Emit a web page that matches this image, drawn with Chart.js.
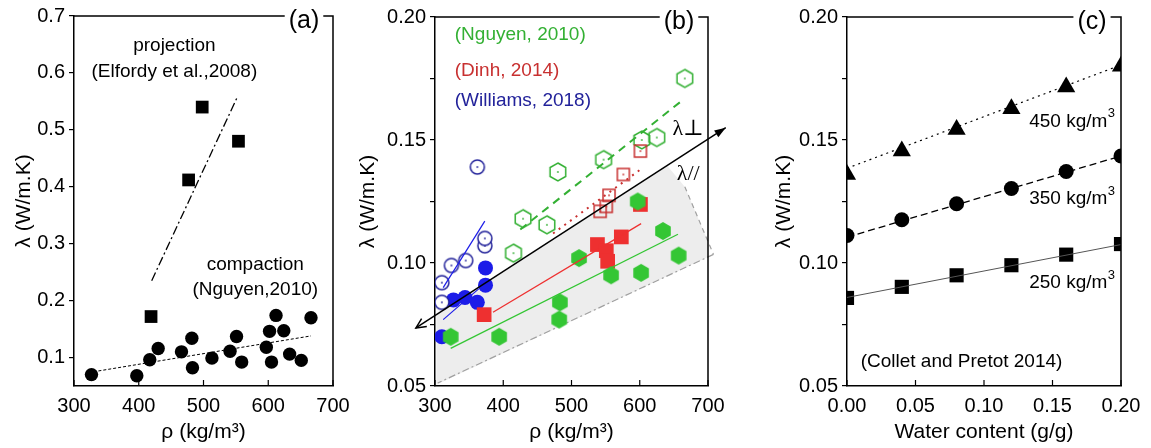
<!DOCTYPE html>
<html>
<head>
<meta charset="utf-8">
<script src="https://cdn.jsdelivr.net/npm/chart.js@4.4.1/dist/chart.umd.min.js"></script>
<style>
  body { margin: 0; background: #fff; width: 1151px; height: 448px; overflow: hidden; position: relative; }
  canvas { position: absolute; top: 0; }
</style>
</head>
<body>
<canvas id="chartA" width="360" height="448" style="left:0px"></canvas>
<canvas id="chartB" width="395" height="448" style="left:345px"></canvas>
<canvas id="chartC" width="391" height="448" style="left:760px"></canvas>
<script>
// ---- panel (a) ----
const projRho = [419, 477, 498, 554];
const projLambda = [0.172, 0.412, 0.540, 0.480];
const projFitRho = [420, 552];
const projFitLambda = [0.235, 0.557];
const compRho = [327, 397, 417, 430, 466, 482, 483, 513, 541, 551, 559, 597, 602, 605, 612, 624, 633, 651, 666];
const compLambda = [0.070, 0.068, 0.096, 0.116, 0.110, 0.134, 0.082, 0.099, 0.111, 0.137, 0.092, 0.118, 0.146, 0.092, 0.174, 0.147, 0.106, 0.095, 0.170];
const compFitRho = [330, 666];
const compFitLambda = [0.075, 0.138];
const aXTicks = [300, 400, 500, 600, 700];
const aYTicks = [0.1, 0.2, 0.3, 0.4, 0.5, 0.6, 0.7];

// ---- panel (b) ----
const nguyenOpenRho = [415, 429, 464, 480, 547, 603, 625, 666];
const nguyenOpenLambda = [0.104, 0.118, 0.1155, 0.137, 0.142, 0.150, 0.151, 0.175];
const nguyenOpenFitRho = [425, 665];
const nguyenOpenFitLambda = [0.1136, 0.1667];
const dinhOpenRho = [542, 551, 555, 576, 601];
const dinhOpenLambda = [0.121, 0.123, 0.1275, 0.136, 0.1455];
const dinhOpenFitRho = [473, 600];
const dinhOpenFitLambda = [0.112, 0.1378];
const williamsOpenRho = [310, 310, 324, 345, 362, 373, 373];
const williamsOpenLambda = [0.084, 0.092, 0.099, 0.101, 0.139, 0.107, 0.110];
const williamsOpenFitRho = [312, 373];
const williamsOpenFitLambda = [0.090, 0.117];
const nguyenFullRho = [323, 394, 482, 483, 511, 558, 597, 602, 634, 657];
const nguyenFullLambda = [0.070, 0.070, 0.077, 0.084, 0.102, 0.095, 0.125, 0.096, 0.113, 0.103];
const nguyenFullFitRho = [323, 656];
const nguyenFullFitLambda = [0.0653, 0.1117];
const dinhFullRho = [372, 538, 551, 553, 573, 601];
const dinhFullLambda = [0.079, 0.1075, 0.105, 0.1007, 0.1106, 0.1238];
const dinhFullFitRho = [385, 602];
const dinhFullFitLambda = [0.080, 0.116];
const williamsFullRho = [310, 327, 344, 362, 374, 374];
const williamsFullLambda = [0.070, 0.085, 0.086, 0.084, 0.091, 0.098];
const williamsFullFitRho = [312, 364];
const williamsFullFitLambda = [0.077, 0.0895];
const trendRho = [272, 726];
const trendLambda = [0.0736, 0.155];
const zoneRho = [302, 302, 640, 666, 708];
const zoneLambda = [0.0505, 0.079, 0.1396, 0.131, 0.1035];
const zoneRightRho = [666, 708];
const zoneRightLambda = [0.131, 0.1035];
const zoneBottomRho = [708, 304];
const zoneBottomLambda = [0.1035, 0.0512];
const bXTicks = [300, 400, 500, 600, 700];
const bYTicks = [0.05, 0.075, 0.10, 0.125, 0.15, 0.175, 0.20];

// ---- panel (c) ----
const water = [0, 0.04, 0.08, 0.12, 0.16, 0.20];
const lambda450 = [0.136, 0.1455, 0.1543, 0.1627, 0.1715, 0.180];
const lambda350 = [0.1112, 0.1176, 0.1241, 0.1303, 0.1372, 0.1435];
const lambda250 = [0.0858, 0.0903, 0.0950, 0.0991, 0.1034, 0.1077];
const fitWater = [0, 0.20];
const fit450 = [0.1385, 0.1805];
const fit350 = [0.1105, 0.1435];
const fit250 = [0.086, 0.1075];
const cXTicks = [0, 0.05, 0.10, 0.15, 0.20];
const cYTicks = [0.05, 0.075, 0.10, 0.125, 0.15, 0.175, 0.20];

const GREEN = '#33b033', GREEN_FILL = '#34c634';
const RED = '#c83030', RED_FILL = '#ee3030';
const BLUE = '#22229a', BLUE_FILL = '#1c1ce8';
const SANS = '"Liberation Sans", Arial, sans-serif';
const SERIF = '"Liberation Serif", "DejaVu Serif", serif';

Chart.defaults.font.family = SANS;
Chart.defaults.color = '#000';

const pts = (xs, ys) => xs.map((x, i) => ({ x, y: ys[i] }));

// marker images
function marker(kind, fill, stroke, dot) {
  const c = document.createElement('canvas');
  c.width = c.height = 22;
  const g = c.getContext('2d');
  const m = 11;
  g.beginPath();
  if (kind === 'hex') {
    for (let i = 0; i < 6; i++) {
      const a = -Math.PI / 2 + i * Math.PI / 3;
      g.lineTo(m + 9 * Math.cos(a), m + 9 * Math.sin(a));
    }
    g.closePath();
  } else if (kind === 'square') {
    g.rect(m - 6, m - 6, 12, 12);
  } else {
    g.arc(m, m, 7, 0, Math.PI * 2);
  }
  if (fill) { g.fillStyle = fill; g.fill(); }
  if (stroke) { g.strokeStyle = stroke; g.lineWidth = 1.5; g.stroke(); }
  if (dot) { g.fillStyle = dot; g.fillRect(m - 0.8, m - 0.8, 1.6, 1.6); }
  return c;
}

const hexOpen = marker('hex', null, GREEN, GREEN);
const hexFull = marker('hex', GREEN_FILL, null, null);
const squareOpen = marker('square', null, RED, RED);
const circleOpen = marker('circle', '#fff', BLUE, BLUE);

function line(data, color, width, dash, extra) {
  return Object.assign({ data, showLine: true, borderColor: color, borderWidth: width,
    borderDash: dash, pointRadius: 0, fill: false }, extra || {});
}

function scatter(data, style, radius, color, extra) {
  return Object.assign({ data, showLine: false, pointStyle: style, pointRadius: radius,
    backgroundColor: color, borderColor: color, borderWidth: 0 }, extra || {});
}

function axes(o) {
  return {
    x: {
      type: 'linear', min: o.xMin, max: o.xMax,
      afterBuildTicks: s => { s.ticks = o.xTicks.map(v => ({ value: v })); },
      afterFit: s => { s.height = 62; s.paddingLeft = 0; s.paddingRight = 0; },
      grid: { display: false, drawTicks: false },
      border: { color: '#000', width: 1.5 },
      ticks: { padding: 8, font: { size: 20 }, color: '#000', callback: o.xFmt, maxRotation: 0 },
      title: { display: true, text: o.xTitle, font: { size: 21 }, color: '#000', padding: { top: 3, bottom: 3 } }
    },
    y: {
      type: 'linear', min: o.yMin, max: o.yMax,
      afterBuildTicks: s => { s.ticks = o.yTicks.map(v => ({ value: v })); },
      afterFit: s => { s.width = o.yWidth; s.paddingTop = 0; s.paddingBottom = 0; },
      grid: { display: true, drawOnChartArea: false, drawTicks: true, tickLength: 5, color: '#000', lineWidth: 1.2 },
      border: { color: '#000', width: 1.5 },
      ticks: { padding: 4, font: { size: 20 }, color: '#000', callback: o.yFmt },
      title: { display: true, text: 'λ (W/m.K)', font: { size: 21 }, color: '#000', padding: { top: o.titlePad, bottom: 0 } }
    }
  };
}

// frame, panel label, inward x ticks and text notes
function decor(label, notes, extra) {
  return {
    id: 'decor',
    afterDraw(chart) {
      const { ctx, chartArea: a, scales: { x, y } } = chart;
      ctx.save();
      ctx.strokeStyle = '#000';
      ctx.lineWidth = 1.5;
      ctx.beginPath();
      ctx.moveTo(a.left, a.top);
      ctx.lineTo(a.right, a.top);
      ctx.lineTo(a.right, a.bottom);
      ctx.stroke();
      ctx.lineWidth = 1.2;
      x.ticks.forEach(t => {
        const px = x.getPixelForValue(t.value);
        ctx.beginPath();
        ctx.moveTo(px, a.bottom);
        ctx.lineTo(px, a.bottom - 6);
        ctx.stroke();
      });
      if (extra) extra(chart);
      ctx.font = '25px ' + SANS;
      const w = ctx.measureText(label).width;
      const cx = a.right - 29;
      ctx.fillStyle = '#fff';
      ctx.fillRect(cx - w / 2 - 4, a.top - 3, w + 8, 6);
      ctx.fillStyle = '#000';
      ctx.textAlign = 'center';
      ctx.textBaseline = 'middle';
      ctx.fillText(label, cx, a.top + 5);
      notes.forEach(n => {
        const font = n.font || '19px ' + SANS;
        ctx.font = font;
        ctx.fillStyle = n.color || '#000';
        ctx.textAlign = n.align || 'center';
        const px = x.getPixelForValue(n.x), py = y.getPixelForValue(n.y);
        ctx.fillText(n.text, px, py);
        if (n.sup) {
          const tw = ctx.measureText(n.text).width;
          ctx.font = '13px ' + SANS;
          ctx.textAlign = 'left';
          ctx.fillText(n.sup, px + tw + 0.5, py - 8);
        }
      });
      ctx.restore();
    }
  };
}

function arrowHeads(chart) {
  const { ctx, scales: { x, y } } = chart;
  const x0 = x.getPixelForValue(trendRho[0]), y0 = y.getPixelForValue(trendLambda[0]);
  const x1 = x.getPixelForValue(trendRho[1]), y1 = y.getPixelForValue(trendLambda[1]);
  const ang = Math.atan2(y1 - y0, x1 - x0);
  ctx.fillStyle = '#000';
  ctx.lineWidth = 1.5;
  ctx.beginPath();
  ctx.moveTo(x1, y1);
  ctx.lineTo(x1 - 12 * Math.cos(ang - 0.33), y1 - 12 * Math.sin(ang - 0.33));
  ctx.lineTo(x1 - 12 * Math.cos(ang + 0.33), y1 - 12 * Math.sin(ang + 0.33));
  ctx.closePath();
  ctx.fill();
  ctx.beginPath();
  ctx.moveTo(x0 + 11 * Math.cos(ang - 0.45), y0 + 11 * Math.sin(ang - 0.45));
  ctx.lineTo(x0, y0);
  ctx.lineTo(x0 + 11 * Math.cos(ang + 0.45), y0 + 11 * Math.sin(ang + 0.45));
  ctx.stroke();
}

const baseOptions = (scales, padding) => ({
  responsive: false,
  animation: false,
  events: [],
  layout: { padding },
  plugins: { legend: { display: false }, tooltip: { enabled: false } },
  scales
});

// ---- chart (a) ----
new Chart(document.getElementById('chartA'), {
  type: 'scatter',
  data: {
    datasets: [
      line(pts(projFitRho, projFitLambda), '#000', 1.3, [9, 3, 2, 3]),
      line(pts(compFitRho, compFitLambda), '#000', 1, [3, 2]),
      scatter(pts(projRho, projLambda), 'rect', 9, '#000'),
      scatter(pts(compRho, compLambda), 'circle', 6.7, '#000')
    ]
  },
  options: baseOptions(axes({
    xMin: 300, xMax: 700, xTicks: aXTicks, xFmt: v => String(v), xTitle: 'ρ (kg/m³)',
    yMin: 0.05, yMax: 0.7, yTicks: aYTicks, yFmt: v => v.toFixed(1), yWidth: 74, titlePad: 12
  }), { left: 0, right: 27, top: 16, bottom: 0 }),
  plugins: [decor('(a)', [
    { text: 'projection', x: 455, y: 0.648 },
    { text: '(Elfordy et al.,2008)', x: 455, y: 0.602 },
    { text: 'compaction', x: 580, y: 0.263 },
    { text: '(Nguyen,2010)', x: 580, y: 0.219 }
  ])]
});

// ---- chart (b) ----
new Chart(document.getElementById('chartB'), {
  type: 'scatter',
  data: {
    datasets: [
      line(pts(trendRho, trendLambda), '#000', 1.5, [], { clip: false }),
      line(pts(williamsOpenFitRho, williamsOpenFitLambda), BLUE_FILL, 1.2, []),
      line(pts(williamsFullFitRho, williamsFullFitLambda), BLUE_FILL, 1.2, []),
      line(pts(dinhFullFitRho, dinhFullFitLambda), RED_FILL, 1.3, []),
      line(pts(nguyenFullFitRho, nguyenFullFitLambda), GREEN_FILL, 1.3, []),
      line(pts(nguyenOpenFitRho, nguyenOpenFitLambda), GREEN, 2, [8, 6]),
      line(pts(dinhOpenFitRho, dinhOpenFitLambda), RED, 2, [2, 5]),
      scatter(pts(williamsOpenRho, williamsOpenLambda), circleOpen, 7, BLUE),
      scatter(pts(dinhOpenRho, dinhOpenLambda), squareOpen, 7, RED),
      scatter(pts(nguyenOpenRho, nguyenOpenLambda), hexOpen, 9, GREEN),
      scatter(pts(nguyenFullRho, nguyenFullLambda), hexFull, 9, GREEN_FILL),
      scatter(pts(dinhFullRho, dinhFullLambda), 'rect', 10.4, RED_FILL),
      scatter(pts(williamsFullRho, williamsFullLambda), 'circle', 7.5, BLUE_FILL),
      line(pts(zoneRightRho, zoneRightLambda), '#a0a0a0', 1.2, [5, 4], { clip: false }),
      line(pts(zoneBottomRho, zoneBottomLambda), '#a0a0a0', 1.2, [7, 3, 2, 3], { clip: false }),
      line(pts(zoneRho, zoneLambda), 'rgba(0,0,0,0)', 0, [], { fill: 'shape', backgroundColor: 'rgba(200,200,200,0.32)' })
    ]
  },
  options: baseOptions(axes({
    xMin: 300, xMax: 700, xTicks: bXTicks, xFmt: v => String(v), xTitle: 'ρ (kg/m³)',
    yMin: 0.05, yMax: 0.20, yTicks: bYTicks, yFmt: (v, i) => (i % 2 === 0 ? v.toFixed(2) : ''), yWidth: 90, titlePad: 11
  }), { left: 0, right: 32, top: 17, bottom: 0 }),
  plugins: [decor('(b)', [
    { text: '(Nguyen, 2010)', x: 329, y: 0.1926, align: 'left', color: GREEN },
    { text: '(Dinh, 2014)', x: 329, y: 0.178, align: 'left', color: RED },
    { text: '(Williams, 2018)', x: 329, y: 0.166, align: 'left', color: BLUE },
    { text: 'λ⊥', x: 671, y: 0.1544, font: '22px ' + SERIF },
    { text: 'λ//', x: 671, y: 0.1359, font: '22px ' + SERIF }
  ], arrowHeads)]
});

// ---- chart (c) ----
new Chart(document.getElementById('chartC'), {
  type: 'scatter',
  data: {
    datasets: [
      line(pts(fitWater, fit450), '#000', 1.2, [2, 4]),
      line(pts(fitWater, fit350), '#000', 1.3, [7, 4]),
      line(pts(fitWater, fit250), '#555', 1, []),
      scatter(pts(water, lambda450), 'triangle', 10.5, '#000', { clip: 0 }),
      scatter(pts(water, lambda350), 'circle', 7.5, '#000', { clip: 0 }),
      scatter(pts(water, lambda250), 'rect', 10, '#000', { clip: 0 })
    ]
  },
  options: baseOptions(axes({
    xMin: 0, xMax: 0.20, xTicks: cXTicks, xFmt: v => v.toFixed(2), xTitle: 'Water content (g/g)',
    yMin: 0.05, yMax: 0.20, yTicks: cYTicks, yFmt: (v, i) => (i % 2 === 0 ? v.toFixed(2) : ''), yWidth: 87, titlePad: 12
  }), { left: 0, right: 30, top: 17, bottom: 0 }),
  plugins: [decor('(c)', [
    { text: '450 kg/m', sup: '3', x: 0.133, y: 0.1574, align: 'left' },
    { text: '350 kg/m', sup: '3', x: 0.133, y: 0.126, align: 'left' },
    { text: '250 kg/m', sup: '3', x: 0.133, y: 0.0919, align: 'left' },
    { text: '(Collet and Pretot 2014)', x: 0.0836, y: 0.060 }
  ])]
});
</script>
</body>
</html>
